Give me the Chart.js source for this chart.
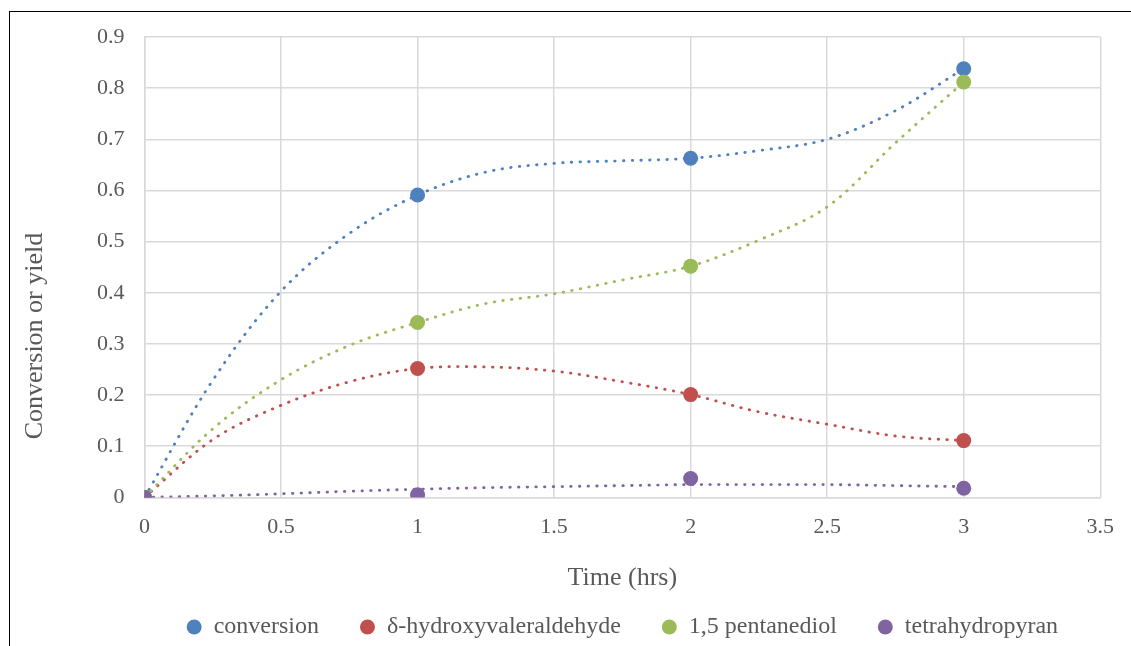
<!DOCTYPE html>
<html>
<head>
<meta charset="utf-8">
<script src="https://cdn.jsdelivr.net/npm/chart.js@4.4.1/dist/chart.umd.min.js"></script>
<style>
  html, body { margin: 0; padding: 0; background: #fff; overflow: hidden; }
  #frame { position: absolute; left: 9px; top: 11px; width: 2000px; height: 2000px;
           border-left: 1px solid #000; border-top: 1px solid #000; }
  #wrap { position: absolute; left: 0; top: 0; width: 1131px; height: 646px; }
</style>
</head>
<body>
<div id="frame"></div>
<div id="wrap"><canvas id="chart1"></canvas></div>
<script>
  const times = [0, 1, 2, 3];
  const conversion = [0, 0.591, 0.663, 0.838];
  const hydroxy = [0, 0.252, 0.201, 0.111];
  const pentanediol = [0, 0.342, 0.452, 0.812];
  const thp = [0, 0.005, 0.037, 0.018];

  // dotted trendlines, every 0.25 h
  const trendTimes = [0, 0.25, 0.5, 0.75, 1, 1.25, 1.5, 1.75, 2, 2.25, 2.5, 2.75, 3];
  const conversionTrend = [0, 0.229, 0.403, 0.516, 0.591, 0.636, 0.653, 0.658, 0.663, 0.678, 0.700, 0.756, 0.838];
  const hydroxyTrend = [0, 0.113, 0.180, 0.226, 0.252, 0.255, 0.247, 0.226, 0.201, 0.167, 0.143, 0.120, 0.111];
  const pentanediolTrend = [0, 0.134, 0.230, 0.297, 0.342, 0.379, 0.398, 0.425, 0.452, 0.503, 0.568, 0.693, 0.812];
  const thpTrend = [0, 0.003, 0.007, 0.012, 0.016, 0.019, 0.021, 0.023, 0.025, 0.025, 0.025, 0.023, 0.021];

  const xTickLabels = ['0', '0.5', '1', '1.5', '2', '2.5', '3', '3.5'];
  const yTickLabels = ['0', '0.1', '0.2', '0.3', '0.4', '0.5', '0.6', '0.7', '0.8', '0.9'];
  const yTitle = 'Conversion or yield';

  const azul = '#4F81BD';
  const vermelho = '#C0504D';
  const verde = '#9BBB59';
  const roxo = '#8064A2';
  const texto = '#595959';
  const grade = '#D9D9D9';
  const fonte = '"Liberation Serif", "Times New Roman", serif';

  const pts = (xs, ys) => xs.map((x, i) => ({ x: x, y: ys[i] }));

  function marcador(label, ys, cor) {
    return {
      label: label,
      data: pts(times, ys),
      backgroundColor: cor,
      borderColor: cor,
      pointRadius: 7.5,
      pointHoverRadius: 7.5,
      pointBorderWidth: 0,
      pointStyle: 'circle',
      showLine: false
    };
  }

  function tendencia(ys, cor) {
    return {
      label: 'trend',
      data: pts(trendTimes, ys),
      borderColor: cor,
      backgroundColor: cor,
      borderWidth: 2.8,
      borderDash: [0.5, 8.2],
      borderCapStyle: 'round',
      pointRadius: 0,
      showLine: true,
      tension: 0.35,
      fill: false
    };
  }

  // y title sits lower than the axis centre in the original, so draw it by hand
  const tituloY = {
    id: 'tituloY',
    afterDraw(chart) {
      const c = chart.ctx;
      c.save();
      c.translate(35, 336);
      c.rotate(-Math.PI / 2);
      c.font = '26px ' + fonte;
      c.fillStyle = texto;
      c.textAlign = 'center';
      c.textBaseline = 'middle';
      c.fillText(yTitle, 0, 0);
      c.restore();
    }
  };

  const ctx = document.getElementById('chart1').getContext('2d');

  new Chart(ctx, {
    type: 'scatter',
    data: {
      datasets: [
        marcador('tetrahydropyran', thp, roxo),
        marcador('1,5 pentanediol', pentanediol, verde),
        marcador('\u03b4-hydroxyvaleraldehyde', hydroxy, vermelho),
        marcador('conversion', conversion, azul),
        tendencia(thpTrend, roxo),
        tendencia(pentanediolTrend, verde),
        tendencia(hydroxyTrend, vermelho),
        tendencia(conversionTrend, azul)
      ]
    },
    plugins: [tituloY],
    options: {
      responsive: true,
      maintainAspectRatio: false,
      animation: false,
      layout: {
        padding: { left: 77, right: 17, top: 37, bottom: -3 }
      },
      scales: {
        x: {
          type: 'linear',
          min: 0,
          max: 3.5,
          ticks: {
            stepSize: 0.5,
            color: texto,
            padding: 17,
            font: { family: fonte, size: 22 },
            callback: (v, i) => xTickLabels[i]
          },
          grid: { color: grade, lineWidth: 1.5, drawTicks: false },
          border: { color: grade, width: 1.5 },
          title: {
            display: true,
            text: 'Time (hrs)',
            color: texto,
            font: { family: fonte, size: 26 },
            padding: { top: 5, bottom: -20 }
          }
        },
        y: {
          min: 0,
          max: 0.9,
          ticks: {
            stepSize: 0.1,
            color: texto,
            padding: 20,
            font: { family: fonte, size: 22 },
            callback: (v, i) => yTickLabels[i]
          },
          grid: { color: grade, lineWidth: 1.5, drawTicks: false },
          border: { color: grade, width: 1.5 }
        }
      },
      plugins: {
        legend: {
          position: 'bottom',
          fullSize: false,
          reverse: true,
          labels: {
            usePointStyle: true,
            pointStyle: 'circle',
            boxWidth: 15,
            boxHeight: 10.6,
            padding: 41,
            color: texto,
            font: { family: fonte, size: 24 },
            filter: (item) => item.datasetIndex < 4
          }
        },
        tooltip: { enabled: false }
      }
    }
  });
</script>
</body>
</html>
